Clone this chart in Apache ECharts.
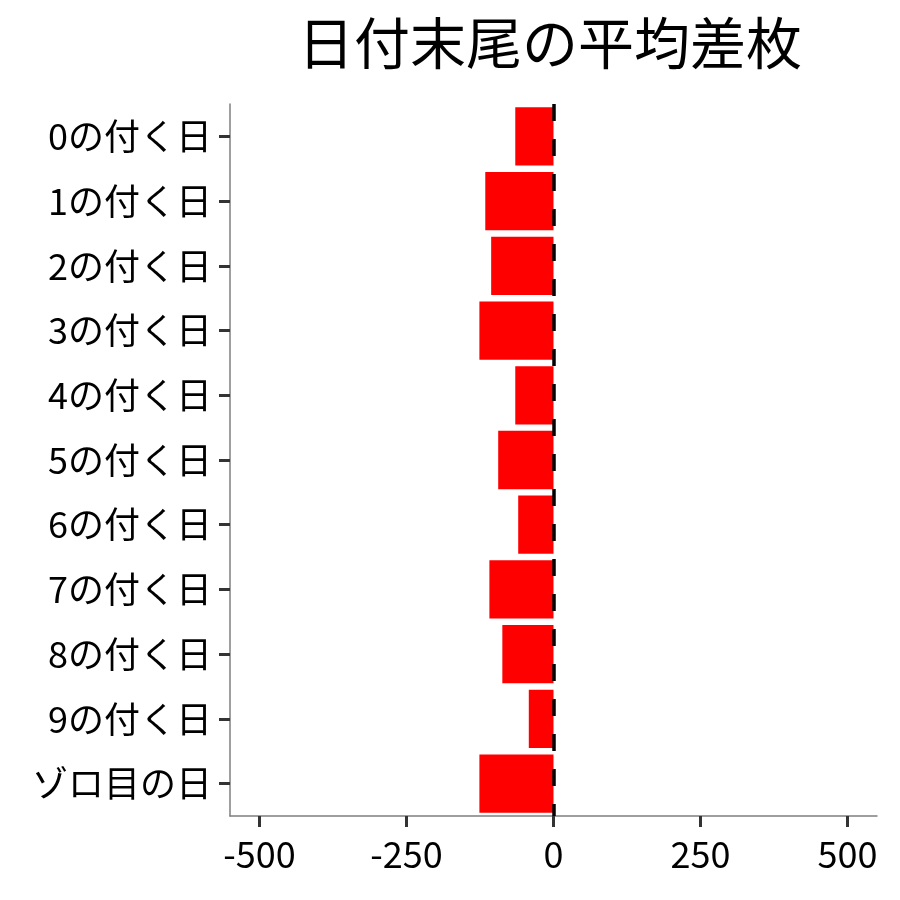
<!DOCTYPE html>
<html>
<head>
<meta charset="utf-8">
<script src="https://cdn.jsdelivr.net/npm/echarts@6/dist/echarts.min.js"></script>
<style>
html,body{margin:0;padding:0;background:#fff;}
#chart{width:900px;height:900px;}
</style>
</head>
<body>
<div id="chart"></div>
<script>
const titleText = '日付末尾の平均差枚';
const categories = ['0の付く日','1の付く日','2の付く日','3の付く日','4の付く日','5の付く日','6の付く日','7の付く日','8の付く日','9の付く日','ゾロ目の日'];
const avgDiff = [-65, -116, -106, -126, -65, -94, -60, -109, -87, -42, -126];
const xTicks = [-500, -250, 0, 250, 500];
const xMin = -550, xMax = 550;

const FONT = '"Noto Sans CJK JP", "Noto Sans", sans-serif';
const chart = echarts.init(document.getElementById('chart'), null, {renderer: 'canvas'});
chart.setOption({
  backgroundColor: '#ffffff',
  animation: false,
  title: {
    text: titleText,
    left: 293,
    top: 10,
    textStyle: {fontFamily: FONT, fontSize: 56, fontWeight: 'normal', color: '#000'}
  },
  grid: {left: 230, right: 23, top: 104, bottom: 84, containLabel: false},
  xAxis: {
    type: 'value',
    min: xMin,
    max: xMax,
    splitLine: {show: false},
    axisLine: {show: true, onZero: false, lineStyle: {color: '#7f7f7f', width: 1.5}},
    axisTick: {show: true, customValues: xTicks, length: 11, lineStyle: {color: '#333', width: 3}},
    axisLabel: {customValues: xTicks, margin: 20, fontFamily: FONT, fontSize: 36, color: '#000'}
  },
  yAxis: {
    type: 'category',
    data: categories,
    inverse: true,
    axisLine: {show: true, onZero: false, lineStyle: {color: '#7f7f7f', width: 1.5}},
    axisTick: {show: true, alignWithLabel: true, length: 11, lineStyle: {color: '#333', width: 3}},
    axisLabel: {margin: 18, fontFamily: FONT, fontSize: 36, color: '#000'},
    splitLine: {show: false}
  },
  series: [{
    type: 'bar',
    data: avgDiff,
    barWidth: '90%',
    itemStyle: {color: '#ff0000'},
    markLine: {
      silent: true,
      symbol: ['none', 'none'],
      label: {show: false},
      lineStyle: {color: '#000', width: 3.5, type: [17, 18]},
      data: [{xAxis: 0}]
    }
  }]
});
</script>
</body>
</html>
